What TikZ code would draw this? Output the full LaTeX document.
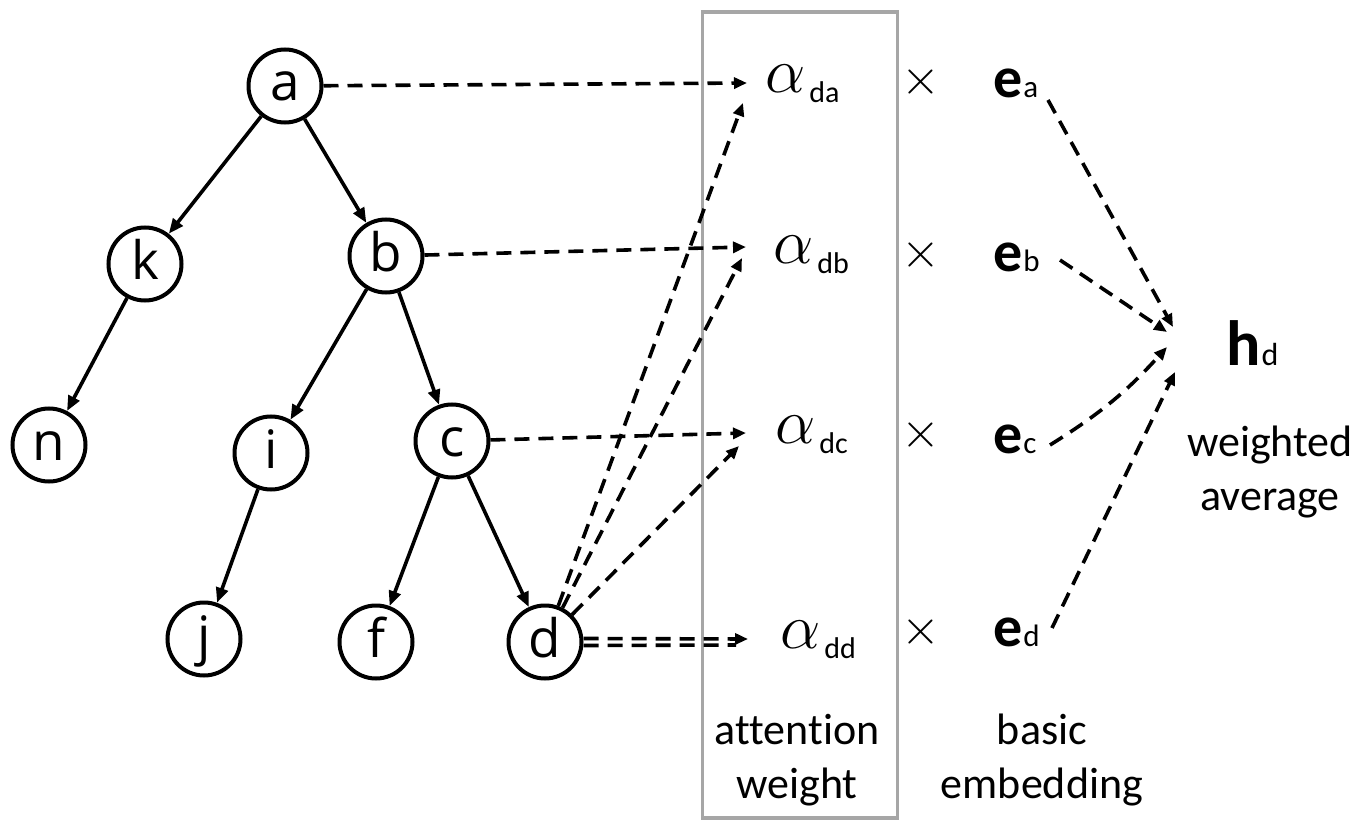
\RequirePackage{fix-cm}
\documentclass[tikz,border=0pt]{standalone}
\usepackage{fontspec}
\setmainfont{Carlito}[Ligatures=NoCommon]
\newfontfamily\nodefont{Open Sans}
\usetikzlibrary{arrows.meta}
\newcommand\alab[1]{{\fontsize{64}{64}\selectfont$\alpha$}\hspace{4pt}\raisebox{-10pt}{\fontsize{30}{30}\selectfont #1}}
\newcommand\elab[2]{{\fontsize{58}{58}\selectfont\bfseries #1}\hspace{1pt}{\fontsize{31}{31}\selectfont #2}}
\newcommand\hlab[2]{{\fontsize{64}{64}\selectfont\bfseries #1}\hspace{1pt}{\fontsize{32}{32}\selectfont #2}}
\newcommand\tms{{\fontsize{50}{50}\selectfont$\times$}}
\begin{document}
\begin{tikzpicture}[x=1pt,y=-1pt,
  treenode/.style={circle, draw, line width=4pt, minimum size=73pt, inner sep=0pt,
    text height=30pt, text depth=0pt, font=\nodefont\fontsize{53}{53}\selectfont},
  solidarr/.style={line width=3.6pt, -{Triangle[length=15pt,width=12pt]}},
  dasharr/.style={line width=3.6pt, dash pattern=on 15pt off 9pt, -{Triangle[length=13pt,width=11pt]}},
  dashline/.style={line width=3.6pt, dash pattern=on 15pt off 9pt},
  lbl/.style={inner sep=0pt, anchor=base west},
  captxt/.style={inner sep=0pt, align=center, font=\fontsize{44}{54}\selectfont},
]
\useasboundingbox (0,0) rectangle (1360,829);
% tree
\node[treenode] (a) at (285,86) {a};
\node[treenode] (k) at (145,264) {k};
\node[treenode] (b) at (386,256) {b};
\node[treenode] (n) at (49,445) {n};
\node[treenode] (i) at (271,453) {i};
\node[treenode] (c) at (452,441) {c};
\node[treenode] (j) at (204,639) {j};
\node[treenode] (f) at (376,642) {f};
\node[treenode] (d) at (545,642) {d};
\draw[solidarr] (a) -- (k);
\draw[solidarr] (a) -- (b);
\draw[solidarr] (k) -- (n);
\draw[solidarr] (b) -- (i);
\draw[solidarr] (b) -- (c);
\draw[solidarr] (i) -- (j);
\draw[solidarr] (c) -- (f);
\draw[solidarr] (c) -- (d);
% attention box
\node[draw=black!35, line width=3.6pt, minimum width=195pt, minimum height=806pt, inner sep=0pt] (box) at (800,415) {};
% alpha labels
\node[lbl] (ada) at (765,93) {\alab{da}};
\node[lbl] (adb) at (773,263) {\alab{db}};
\node[lbl] (adc) at (775,443) {\alab{dc}};
\node[lbl] (add) at (780,648) {\alab{dd}};
% times
\node[inner sep=0pt] (x1) at (921,82) {\tms};
\node[inner sep=0pt] (x2) at (921,255) {\tms};
\node[inner sep=0pt] (x3) at (921,435) {\tms};
\node[inner sep=0pt] (x4) at (921,632) {\tms};
% embeddings
\node[lbl] (ea) at (993,98) {\elab{e}{a}};
\node[lbl] (eb) at (993,271) {\elab{e}{b}};
\node[lbl] (ec) at (993,453) {\elab{e}{c}};
\node[lbl] (ed) at (993,646) {\elab{e}{d}};
\node[lbl] (hd) at (1226,365) {\hlab{h}{d}};
% captions
\node[captxt, anchor=north] (wa) at (1270,426) {weighted\\average};
\node[captxt, anchor=north] (aw) at (797,714) {attention\\weight};
\node[captxt, anchor=north] (be) at (1042,714) {basic\\embedding};
% coordinates for arrow ends
\coordinate (tda1) at (747,83);
\coordinate (tda2) at (743,103);
\coordinate (tdb1) at (746,247);
\coordinate (tdb2) at (742,258);
\coordinate (tdc1) at (746,433);
\coordinate (tdc2) at (739,446);
\coordinate (tdd1) at (748,639);
\coordinate (tdd2) at (736,645);
\coordinate (sa) at (1048,100);
\coordinate (sb) at (1060,260);
\coordinate (sc) at (1050,445);
\coordinate (sd) at (1052,628);
\coordinate (th1) at (1173,327);
\coordinate (th2) at (1167,332);
\coordinate (th3) at (1167,347);
\coordinate (th4) at (1175,372);
% dashed arrows to alpha
\draw[dasharr] (a) -- (tda1);
\draw[dasharr] (b) -- (tdb1);
\draw[dasharr] (c) -- (tdc1);
\draw[dasharr] (d) -- (tda2);
\draw[dasharr] (d) -- (tdb2);
\draw[dasharr] (d) -- (tdc2);
\draw[dasharr] ([yshift=3.5pt]d.east) -- (tdd1);
\draw[dashline] ([yshift=-3.5pt]d.east) -- (tdd2);
% to h
\draw[dasharr] (sa) -- (th1);
\draw[dasharr] (sb) -- (th2);
\draw[dasharr] (sc) to[bend right=8] (th3);
\draw[dasharr] (sd) -- (th4);
\end{tikzpicture}
\end{document}
